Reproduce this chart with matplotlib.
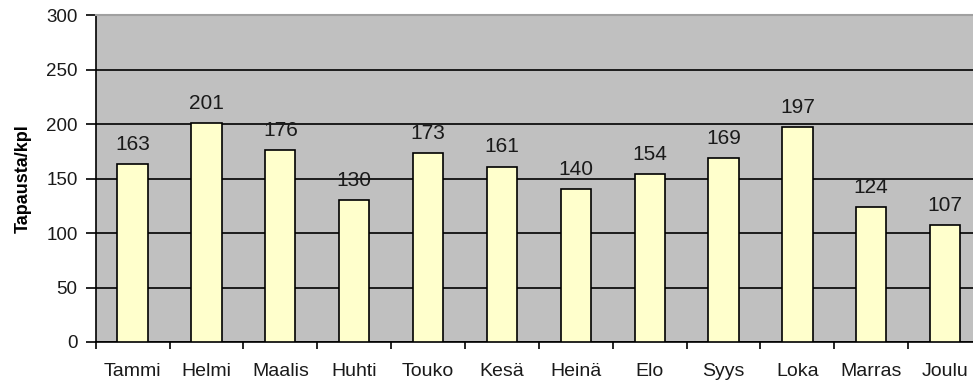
import matplotlib.pyplot as plt

# Tapausten määrä kuukausittain
kuukaudet = ['Tammi', 'Helmi', 'Maalis', 'Huhti', 'Touko', 'Kesä',
             'Heinä', 'Elo', 'Syys', 'Loka', 'Marras', 'Joulu']
tapaukset = [163, 201, 176, 130, 173, 161, 140, 154, 169, 197, 124, 107]
y_ticks = [0, 50, 100, 150, 200, 250, 300]

plt.rcParams['font.family'] = ['Liberation Sans', 'DejaVu Sans']

fig = plt.figure(figsize=(9.73, 3.86), dpi=100)
ax = fig.add_axes([0.0983, 0.114, 0.911, 0.847])
ax.set_facecolor('#C0C0C0')

x = range(len(kuukaudet))
ax.bar(x, tapaukset, width=0.41, color='#FFFFCC', edgecolor='black',
       linewidth=1.2, zorder=3)

# arvot pylväiden yläpuolelle
for xi, v in zip(x, tapaukset):
    ax.text(xi, v + 13, str(v), ha='center', va='baseline', fontsize=15,
            color='#1a1a1a', zorder=4)

ax.set_xlim(-0.5, len(kuukaudet) - 0.5)
ax.set_ylim(0, 300)
ax.set_yticks(y_ticks)
ax.yaxis.grid(True, color='black', linewidth=1.2, zorder=1)
ax.set_axisbelow(True)

# tikit kategorioiden rajoille, nimet keskelle
ax.set_xticks([i - 0.5 for i in range(len(kuukaudet) + 1)])
ax.set_xticklabels([])
ax.set_xticks(list(x), minor=True)
ax.set_xticklabels(kuukaudet, minor=True, fontsize=14, color='#1a1a1a')
ax.tick_params(axis='x', which='minor', length=0, pad=15)
ax.tick_params(axis='x', which='major', direction='out', length=5, width=1.2)
ax.tick_params(axis='y', direction='out', length=7, width=1.2, labelsize=13.5,
               pad=6, labelcolor='#1a1a1a')

ax.spines['left'].set_linewidth(1.2)
ax.spines['bottom'].set_linewidth(1.2)
ax.spines['top'].set_color('#A0A0A0')
ax.spines['top'].set_linewidth(1.5)
ax.spines['right'].set_visible(False)

ax.set_ylabel('Tapausta/kpl', fontsize=13, fontweight='bold', labelpad=10)

plt.savefig('out.png', dpi=100)
